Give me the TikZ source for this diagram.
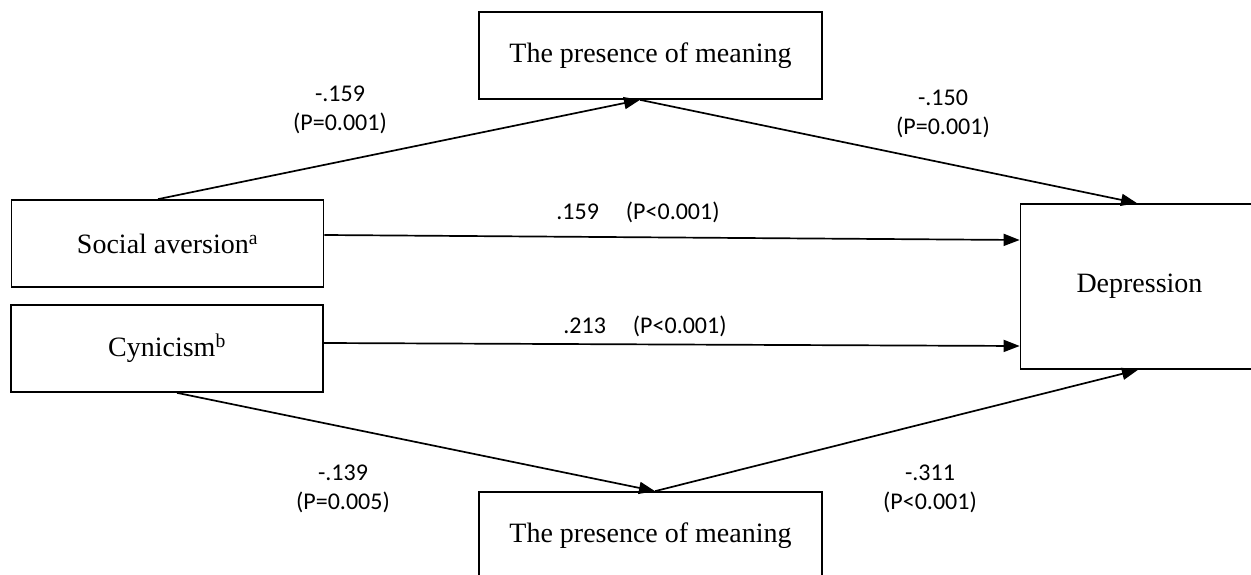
\documentclass[tikz,border=0pt]{standalone}
\usepackage{fontspec}
\setmainfont{Liberation Serif}
\newfontfamily\labfont{Carlito}
\usetikzlibrary{arrows.meta}
\begin{document}
\begin{tikzpicture}[x=1pt,y=-1pt,
  box/.style={draw,line width=1.7pt,inner sep=0pt,font=\fontsize{28}{34}\selectfont},
  conn/.style={line width=1.7pt,-{Triangle[length=16pt,width=12pt]}},
  lab/.style={font=\labfont\fontsize{24}{29}\selectfont,align=center,inner sep=0pt}]
\useasboundingbox (0,0) rectangle (1251,575);
% boxes
\node[box,minimum width=343pt,minimum height=87pt] (top) at (650.5,55.5) {The presence of meaning};
\node[box,minimum width=312pt,minimum height=87pt] (sa) at (167.5,243.5) {Social aversion\textsuperscript{a}};
\node[box,minimum width=312pt,minimum height=87pt] (cy) at (167,348.5) {Cynicism\textsuperscript{b}};
\node[box,minimum width=238pt,minimum height=165pt] (dep) at (1139.5,286.5) {Depression};
\node[box,minimum width=343pt,minimum height=87pt] (bot) at (650.5,535.5) {The presence of meaning};
% connection points
\coordinate (tin) at ([xshift=-10.5pt]top.south);
\coordinate (bin) at ([xshift=4.5pt]bot.north);
% connectors
\draw[conn] ([xshift=-9.5pt]sa.north) -- (tin);
\draw[conn] (tin) -- ([xshift=-2.5pt]dep.north);
\draw[conn] ([yshift=8.5pt]sa.east) -- ([yshift=46.5pt]dep.west);
\draw[conn] ([yshift=5.5pt]cy.east) -- ([yshift=-59.5pt]dep.west);
\draw[conn] ([xshift=10pt]cy.south) -- (bin);
\draw[conn] (bin) -- ([xshift=-1.5pt]dep.south);
% labels
\node[lab] (l1) at (340,110) {-.159\\(P=0.001)};
\node[lab] (l2) at (943,114) {-.150\\(P=0.001)};
\node[lab] (l3) at (638,212) {.159\hspace{27pt}(P<0.001)};
\node[lab] (l4) at (645,326) {.213\hspace{27pt}(P<0.001)};
\node[lab] (l5) at (343,489) {-.139\\(P=0.005)};
\node[lab] (l6) at (930,489) {-.311\\(P<0.001)};
\end{tikzpicture}
\end{document}
